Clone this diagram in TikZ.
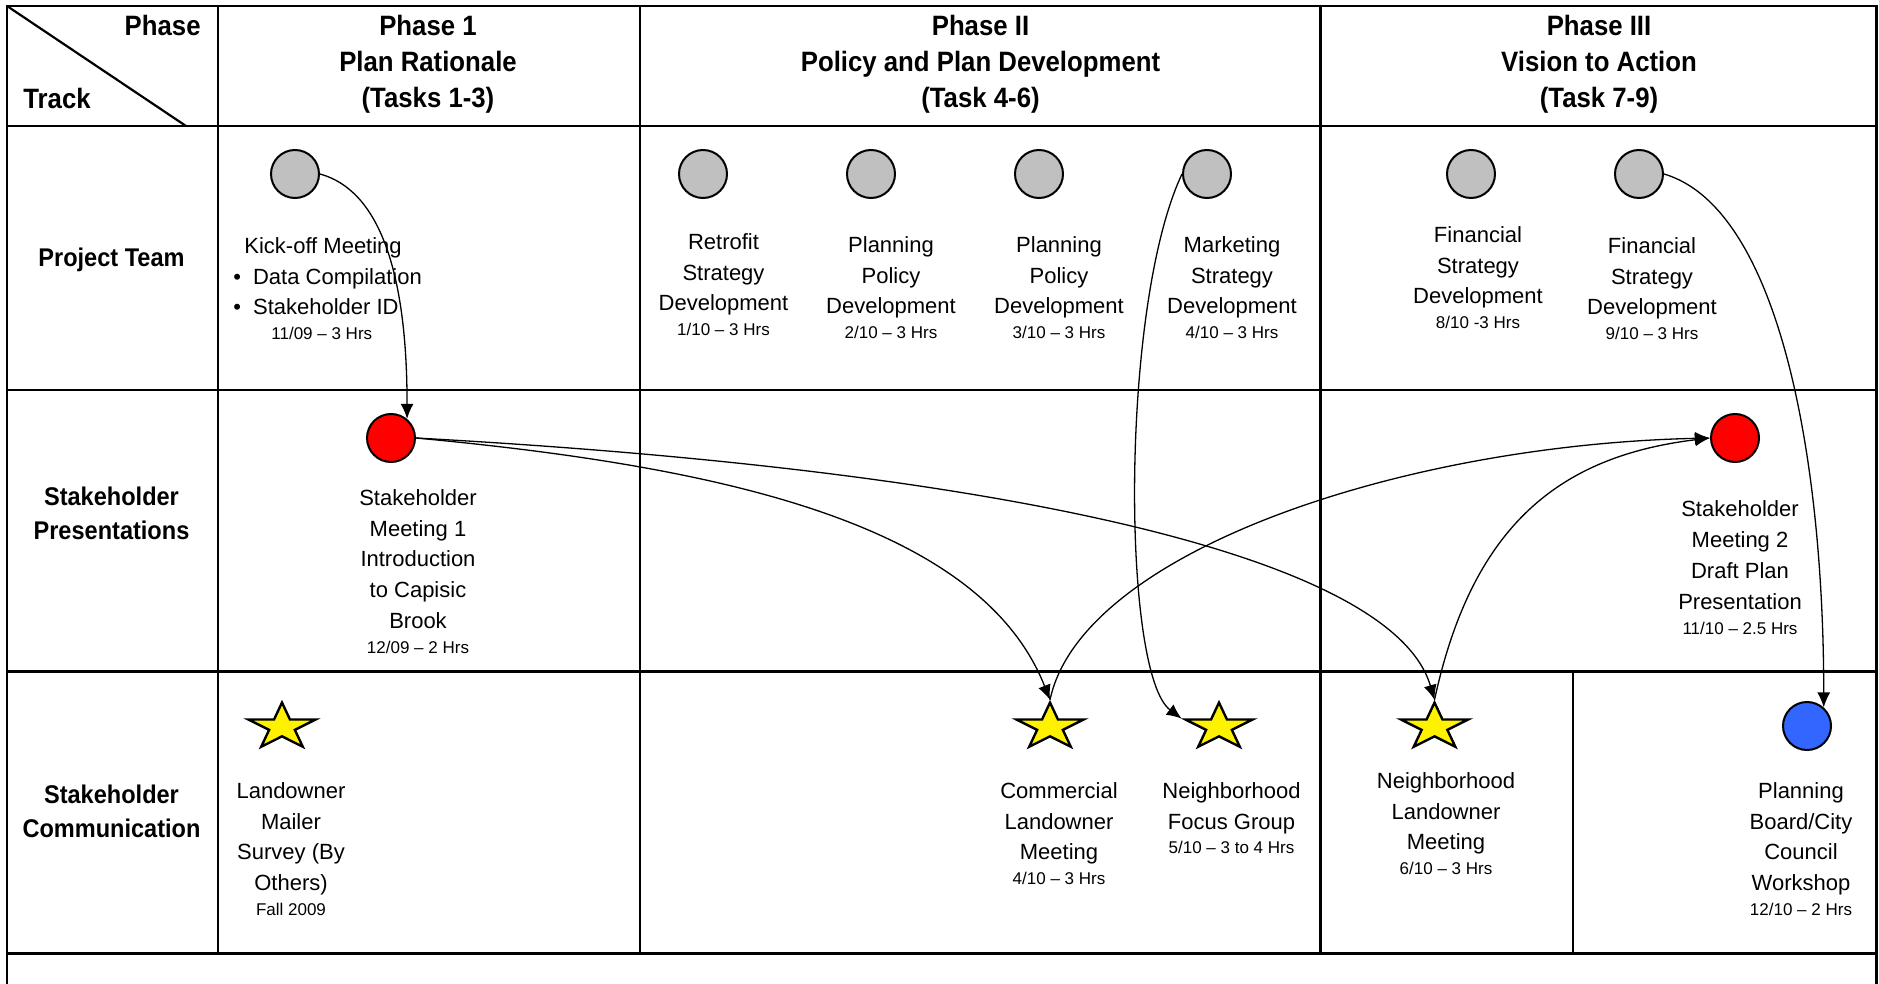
\documentclass[tikz,border=0pt]{standalone}
\usepackage{fontspec}
\setmainfont{Liberation Sans}
\newfontfamily\headfont{Liberation Sans}[FakeStretch=0.92]
\usepackage{tikz}
\usetikzlibrary{shapes.geometric, arrows.meta, calc, positioning}
\definecolor{taskgray}{RGB}{192,192,192}
\definecolor{workshopblue}{RGB}{51,102,255}
\tikzstyle{tableline} = [line width=1.1pt, draw=black]
\tikzstyle{phase} = [font=\headfont\bfseries\fontsize{14}{18}\selectfont, align=center, anchor=north, inner sep=0pt]
\tikzstyle{track} = [font=\headfont\bfseries\fontsize{12.8}{17}\selectfont, align=center, anchor=north, inner sep=0pt]
\tikzstyle{task} = [circle, line width=1pt, draw=black, fill=taskgray, minimum size=24pt, inner sep=0pt]
\tikzstyle{meeting} = [task, fill=red]
\tikzstyle{workshop} = [task, fill=workshopblue]
\tikzstyle{event} = [star, star points=5, star point ratio=2.618, line width=1.2pt, draw=black, fill=yellow, minimum size=35.4pt, inner sep=0pt, yscale=0.69]
\tikzstyle{note} = [font=\fontsize{11}{15.4}\selectfont, align=center, anchor=north, inner sep=0pt]
\tikzstyle{arrow} = [line width=0.65pt, ->, >={Latex[length=7.5pt,width=6.5pt]}]
\newcommand{\when}[1]{\\[-3pt]{\fontsize{8.5}{10}\selectfont #1}}

\begin{document}
\begin{tikzpicture}[x=0.5pt, y=0.5pt]
		\useasboundingbox (0,0) rectangle (1879,-984);
		\draw [tableline] (7,-990) -- (7,-6) -- (1876.5,-6) -- (1876.5,-990);
		\foreach \y in {126, 390, 671.5, 953.5}
			\draw [tableline] (7,-\y) -- (1876.5,-\y);
		\foreach \x in {218, 640, 1320.5}
			\draw [tableline] (\x,-6) -- (\x,-953.5);
		\draw [tableline] (1573,-671.5) -- (1573,-953.5);
		\draw [tableline] (7,-6) -- (186,-126);
		\node (PhaseCorner) [phase, anchor=north east] at (201,-15) {Phase};
		\node (TrackCorner) [phase, anchor=north west] at (23,-88) {Track};
		\node (PhaseOne) [phase] at (428,-15) {Phase 1\\Plan Rationale\\(Tasks 1-3)};
		\node (PhaseTwo) [phase] at (980.5,-15) {Phase II\\Policy and Plan Development\\(Task 4-6)};
		\node (PhaseThree) [phase] at (1599,-15) {Phase III\\Vision to Action\\(Task 7-9)};
		\node (ProjectTeam) [track] at (111.5,-248) {Project Team};
		\node (Presentations) [track] at (111.5,-487) {Stakeholder\\Presentations};
		\node (Communication) [track] at (111.5,-785) {Stakeholder\\Communication};
		\node (KickOff) [task] at (295,-174) {};
		\node (Retrofit) [task] at (703,-174) {};
		\node (PolicyOne) [task, right = 59pt of Retrofit] {};
		\node (PolicyTwo) [task, right = 59pt of PolicyOne] {};
		\node (Marketing) [task, right = 59pt of PolicyTwo] {};
		\node (FinancialOne) [task] at (1471,-174) {};
		\node (FinancialTwo) [task, right = 59pt of FinancialOne] {};
		\node (MeetingOne) [meeting] at (391,-438) {};
		\node (MeetingTwo) [meeting] at (1735,-438) {};
		\node (Mailer) [event] at (282,-727) {};
		\node (Commercial) [event] at (1050,-727) {};
		\node (FocusGroup) [event] at (1219,-727) {};
		\node (Neighborhood) [event] at (1434.5,-727) {};
		\node (Workshop) [workshop] at (1807,-726) {};
		\node (KickOffText) [note, anchor=north west, align=left] at (233,-237) {\hspace*{5.5pt}Kick-off Meeting\\\textbullet\hspace*{6pt}Data Compilation\\\textbullet\hspace*{6pt}Stakeholder ID\when{\hspace*{19pt}11/09 -- 3 Hrs}};
		\node (RetrofitText) [note] at (723.5,-233) {Retrofit\\Strategy\\Development\when{1/10 -- 3 Hrs}};
		\node (PolicyOneText) [note] at (891,-236) {Planning\\Policy\\Development\when{2/10 -- 3 Hrs}};
		\node (PolicyTwoText) [note] at (1059,-236) {Planning\\Policy\\Development\when{3/10 -- 3 Hrs}};
		\node (MarketingText) [note] at (1232,-236) {Marketing\\Strategy\\Development\when{4/10 -- 3 Hrs}};
		\node (FinancialOneText) [note] at (1478,-226) {Financial\\Strategy\\Development\when{8/10 -3 Hrs}};
		\node (FinancialTwoText) [note] at (1652,-237) {Financial\\Strategy\\Development\when{9/10 -- 3 Hrs}};
		\node (MeetingOneText) [note] at (418,-489) {Stakeholder\\Meeting 1\\Introduction\\to Capisic\\Brook\when{12/09 -- 2 Hrs}};
		\node (MeetingTwoText) [note] at (1740,-500.5) {Stakeholder\\Meeting 2\\Draft Plan\\Presentation\when{11/10 -- 2.5 Hrs}};
		\node (MailerText) [note] at (291,-782) {Landowner\\Mailer\\Survey (By\\Others)\when{Fall 2009}};
		\node (CommercialText) [note] at (1059,-782) {Commercial\\Landowner\\Meeting\when{4/10 -- 3 Hrs}};
		\node (FocusGroupText) [note] at (1231.5,-782) {Neighborhood\\Focus Group\when{5/10 -- 3 to 4 Hrs}};
		\node (NeighborhoodText) [note] at (1446,-772) {Neighborhood\\Landowner\\Meeting\when{6/10 -- 3 Hrs}};
		\node (WorkshopText) [note] at (1801,-782) {Planning\\Board/City\\Council\\Workshop\when{12/10 -- 2 Hrs}};
		\draw [arrow] (KickOff.east) .. controls +(58,-16) and +(0,150) .. (MeetingOne.50);
		\draw [arrow] (MeetingOne.east) .. controls +(300,-28) and +(-70,178) .. (Commercial.north);
		\draw [arrow] (MeetingOne.east) .. controls +(584,-32) and +(-42,144) .. (Neighborhood.north);
		\draw [arrow] (Commercial.north) .. controls +(31,147) and +(-311,-7) .. (MeetingTwo.west);
		\draw [arrow] (Neighborhood.north) .. controls +(38,176) and +(-149,-18) .. (MeetingTwo.west);
		\draw [arrow] (Marketing.west) .. controls +(-62,-131) and +(-60,45) .. (FocusGroup.outer point 2);
		\draw [arrow] (FinancialTwo.east) .. controls +(115,-34) and +(0,250) .. (Workshop.48);
\end{tikzpicture}
\end{document}
